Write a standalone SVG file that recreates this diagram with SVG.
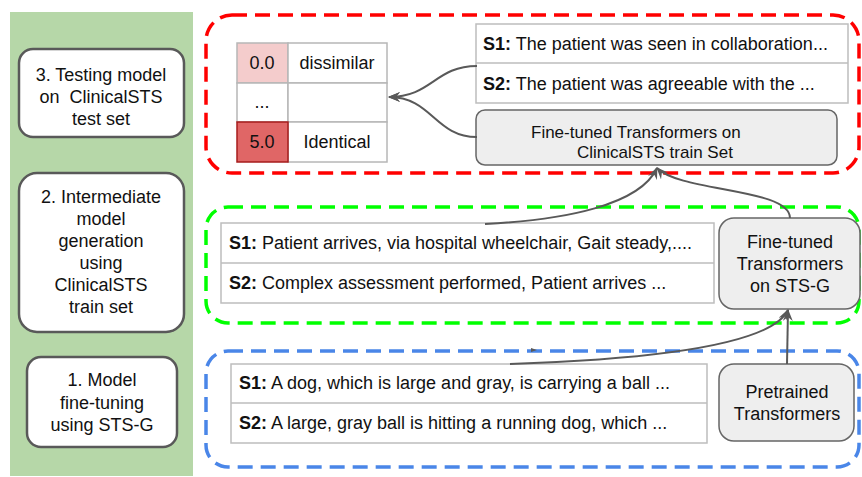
<svg xmlns="http://www.w3.org/2000/svg" width="862" height="477" viewBox="0 0 862 477">
<style>
text{font-family:"Liberation Sans",Arial,sans-serif;fill:#111;}
.step{fill:#fff;stroke:#595959;stroke-width:2.5;}
.st{font-size:18px;text-anchor:middle;dominant-baseline:central;}
.sent{fill:#fff;stroke:#bdbdbd;stroke-width:1.5;}
.stx{font-size:18px;dominant-baseline:central;}
.gbox{fill:#eeeeee;stroke:#666;stroke-width:1.5;}
.cell{fill:#fff;stroke:#b7b7b7;stroke-width:1.5;}
.conn{fill:none;stroke:#595959;stroke-width:2;}
.dash{fill:none;stroke-width:3.5;stroke-dasharray:15 8;}
</style>
<defs>
<marker id="ah" viewBox="0 0 12 10" refX="11" refY="5" markerWidth="12" markerHeight="10" markerUnits="userSpaceOnUse" orient="auto">
<path d="M0,0 L12,5 L0,10 L4,5 z" fill="#595959"/>
</marker>
</defs>
<rect x="0" y="0" width="862" height="477" fill="#fff"/>
<rect x="10" y="12" width="183" height="464" fill="#b6d7a8"/>
<g id="step3">
<rect class="step" x="19" y="49" width="165" height="88" rx="14"/>
<text class="st" x="101" y="75">3. Testing model</text>
<text class="st" x="101" y="97">on &#160;ClinicalSTS</text>
<text class="st" x="101" y="119">test set</text>
</g>
<g id="step2">
<rect class="step" x="19" y="173" width="165" height="159" rx="18"/>
<text class="st" x="101" y="197">2. Intermediate</text>
<text class="st" x="101" y="219">model</text>
<text class="st" x="101" y="241">generation</text>
<text class="st" x="101" y="263">using</text>
<text class="st" x="101" y="285">ClinicalSTS</text>
<text class="st" x="101" y="307">train set</text>
</g>
<g id="step1">
<rect class="step" x="27" y="357" width="150" height="90" rx="14"/>
<text class="st" x="102" y="380">1. Model</text>
<text class="st" x="102" y="403">fine-tuning</text>
<text class="st" x="102" y="425">using STS-G</text>
</g>
<g id="groups">
<rect class="dash" x="206" y="15" width="653" height="158" rx="26" stroke="#ff0000"/>
<rect class="dash" x="206" y="207" width="653" height="116" rx="22" stroke="#00ff00"/>
<rect class="dash" x="206" y="351" width="653" height="116" rx="22" stroke="#4a86e8"/>
</g>
<g id="score-table">
<rect class="cell" x="237" y="43" width="51" height="40" style="fill:#f4cccc"/>
<rect class="cell" x="288" y="43" width="99" height="40"/>
<rect class="cell" x="237" y="83" width="51" height="39"/>
<rect class="cell" x="288" y="83" width="99" height="39"/>
<rect class="cell" x="288" y="122" width="99" height="40"/>
<rect x="237" y="122" width="51" height="40" fill="#e06666" stroke="#a61c1c" stroke-width="1.5"/>
<text class="st" x="262" y="63">0.0</text>
<text class="st" x="337" y="63">dissimilar</text>
<text class="st" x="262" y="102">...</text>
<text class="st" x="262" y="142">5.0</text>
<text class="st" x="337" y="142">Identical</text>
</g>
<g id="clinical-test">
<rect class="sent" x="476" y="24" width="372" height="79"/>
<line x1="476" y1="63" x2="848" y2="63" stroke="#bdbdbd" stroke-width="1.5"/>
<text class="stx" x="483" y="44"><tspan font-weight="bold">S1:</tspan> The patient was seen in collaboration...</text>
<text class="stx" x="483" y="84"><tspan font-weight="bold">S2:</tspan> The patient was agreeable with the ...</text>
</g>
<g id="ft-clinical">
<rect class="gbox" x="476" y="110" width="361" height="55" rx="9"/>
<text x="531" y="132" font-size="17" dominant-baseline="central">Fine-tuned Transformers on</text>
<text x="577" y="152" font-size="17" dominant-baseline="central">ClinicalSTS train Set</text>
</g>
<g id="clinical-train">
<rect class="sent" x="221" y="223" width="493" height="80"/>
<line x1="221" y1="263" x2="714" y2="263" stroke="#bdbdbd" stroke-width="1.5"/>
<text class="stx" x="229" y="243"><tspan font-weight="bold">S1:</tspan> Patient arrives, via hospital wheelchair, Gait steady,....</text>
<text class="stx" x="229" y="283"><tspan font-weight="bold">S2:</tspan> Complex assessment performed, Patient arrives ...</text>
</g>
<g id="ft-stsg">
<rect class="gbox" x="719" y="218" width="141" height="91" rx="15"/>
<text class="st" x="790" y="242">Fine-tuned</text>
<text class="st" x="790" y="264">Transformers</text>
<text class="st" x="790" y="286">on STS-G</text>
</g>
<g id="stsg">
<rect class="sent" x="231" y="364" width="476" height="79"/>
<line x1="231" y1="403" x2="707" y2="403" stroke="#bdbdbd" stroke-width="1.5"/>
<text class="stx" x="239" y="383"><tspan font-weight="bold">S1:</tspan> A dog, which is large and gray, is carrying a ball ...</text>
<text class="stx" x="239" y="423"><tspan font-weight="bold">S2:</tspan> A large, gray ball is hitting a running dog, which ...</text>
</g>
<g id="pretrained">
<rect class="gbox" x="719" y="364" width="135" height="77" rx="15"/>
<text class="st" x="787" y="392">Pretrained</text>
<text class="st" x="787" y="414">Transformers</text>
</g>
<g id="connectors">
<path class="conn" d="M477,66 C435,66 432,97 389,97" marker-end="url(#ah)"/>
<path class="conn" d="M477,137 C435,137 432,97 389,97" marker-end="url(#ah)"/>
<path class="conn" d="M485,224 C565,220 640,205 657,168" marker-end="url(#ah)"/>
<path class="conn" d="M790,218 C790,188 680,192 657,168" marker-end="url(#ah)"/>
<path class="conn" d="M787,364 L788,310" marker-end="url(#ah)"/>
<path class="conn" d="M510,364 C630,360 770,348 788,310" marker-end="url(#ah)"/>
<polygon points="531,348 537,350 531,352" fill="#595959"/>
</g>
</svg>
